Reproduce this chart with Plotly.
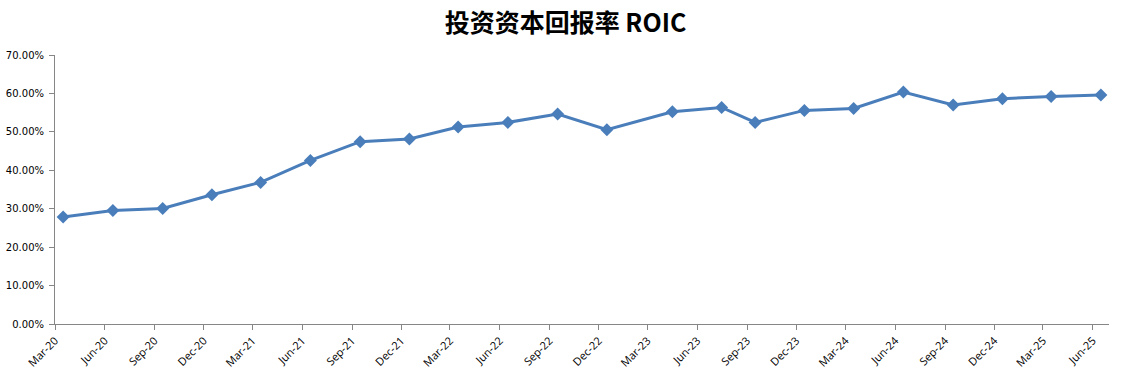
import plotly.graph_objects as go

# Data (mid-month positions of each observation)
dates = ["2020-03-16", "2020-06-16", "2020-09-16", "2020-12-16",
         "2021-03-16", "2021-06-16", "2021-09-16", "2021-12-16",
         "2022-03-16", "2022-06-16", "2022-09-16", "2022-12-16",
         "2023-04-16", "2023-07-16", "2023-09-16", "2023-12-16",
         "2024-03-16", "2024-06-16", "2024-09-16", "2024-12-16",
         "2025-03-16", "2025-06-16"]
roic = [0.2784, 0.2956, 0.3008, 0.3365, 0.3685, 0.4257, 0.4744, 0.4814,
        0.5126, 0.5246, 0.5464, 0.5056, 0.5524, 0.5636, 0.5246, 0.5558,
        0.5610, 0.6037, 0.5699, 0.5863, 0.5923, 0.5959]

tick_dates = ["2020-03-01", "2020-06-01", "2020-09-01", "2020-12-01",
              "2021-03-01", "2021-06-01", "2021-09-01", "2021-12-01",
              "2022-03-01", "2022-06-01", "2022-09-01", "2022-12-01",
              "2023-03-01", "2023-06-01", "2023-09-01", "2023-12-01",
              "2024-03-01", "2024-06-01", "2024-09-01", "2024-12-01",
              "2025-03-01", "2025-06-01"]
tick_labels = ["Mar-20", "Jun-20", "Sep-20", "Dec-20", "Mar-21", "Jun-21",
               "Sep-21", "Dec-21", "Mar-22", "Jun-22", "Sep-22", "Dec-22",
               "Mar-23", "Jun-23", "Sep-23", "Dec-23", "Mar-24", "Jun-24",
               "Sep-24", "Dec-24", "Mar-25", "Jun-25"]
y_ticks = [0, 0.1, 0.2, 0.3, 0.4, 0.5, 0.6, 0.7]

color = "#4A7EBB"

fig = go.Figure()
fig.add_trace(go.Scatter(
    x=dates, y=roic, mode="lines+markers",
    line=dict(color=color, width=3),
    marker=dict(symbol="diamond", size=10, color=color),
    showlegend=False,
))

fig.update_layout(
    width=1131, height=381,
    margin=dict(l=55, r=22, t=55, b=57),
    paper_bgcolor="white", plot_bgcolor="white",
    title=dict(
        text="<b>投资资本回报率 ROIC</b>",
        x=0.5, xanchor="center", y=0.94, yanchor="middle",
        font=dict(family="Noto Sans CJK SC", size=25, color="#000000"),
    ),
)

fig.update_xaxes(
    type="date",
    range=["2020-03-01", "2025-07-01"],
    tickmode="array", tickvals=tick_dates, ticktext=tick_labels,
    tickangle=-45,
    ticks="outside", ticklen=5, tickcolor="#868686",
    showline=True, linecolor="#868686", linewidth=1,
    showgrid=False, zeroline=False, automargin=False,
    tickfont=dict(family="Open Sans", size=11, color="#000000"),
)
fig.update_yaxes(
    range=[0, 0.7],
    tickmode="array", tickvals=y_ticks, tickformat=".2%",
    ticks="outside", ticklen=5, tickcolor="#868686",
    showline=True, linecolor="#868686", linewidth=1,
    showgrid=False, zeroline=False, automargin=False,
    ticklabelstandoff=3,
    tickfont=dict(family="DejaVu Sans", size=10, color="#000000"),
)

fig.write_html("out.html")
